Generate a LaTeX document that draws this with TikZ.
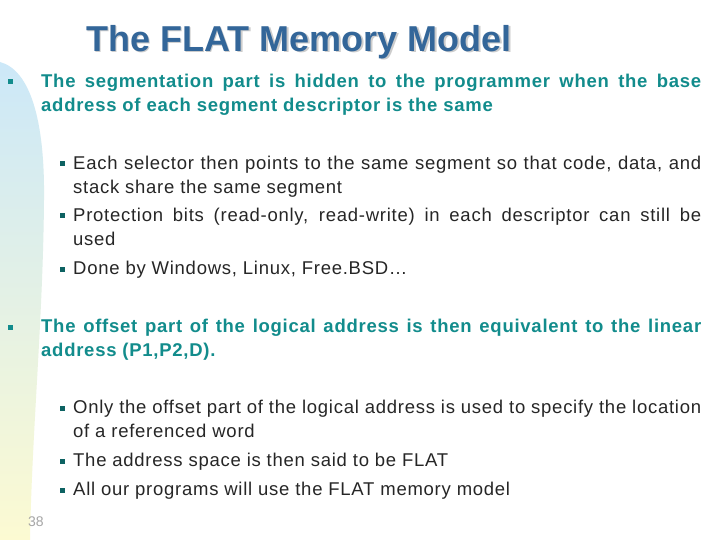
\documentclass[tikz,border=0pt]{standalone}
\usepackage{fontspec}
\setmainfont{Liberation Sans}
\newfontfamily\spacedfont[LetterSpace=4]{Liberation Sans}
\definecolor{titleblue}{HTML}{336699}
\definecolor{teal1}{HTML}{128C8C}
\definecolor{band1}{HTML}{CCE8F8}
\definecolor{band2}{HTML}{FCFAD2}
\begin{document}
\begin{tikzpicture}[x=1bp,y=-1bp,
  lone/.style={anchor=north west,inner sep=0,text width=660bp,align=justify,font=\spacedfont\fontsize{18.5bp}{24bp}\selectfont\bfseries,text=teal1},
  ltwo/.style={anchor=north west,inner sep=0,text width=628bp,align=justify,font=\spacedfont\fontsize{18.5bp}{24bp}\selectfont,text=black!85},
  bul/.style={fill=#1,minimum size=5bp,inner sep=0}]
\useasboundingbox (0,0) rectangle (720,540);
\fill[white] (0,0) rectangle (720,540);
\shade[top color=band1,bottom color=band2] (0,62) .. controls (30,70) and (45,120) .. (44,200) .. controls (43,320) and (32,430) .. (30,540) -- (0,540) -- cycle;
\node[font=\fontsize{36bp}{40bp}\selectfont\bfseries,text=black!20] (shadow) at (300.5,43.5) {The FLAT Memory Model};
\node[font=\fontsize{36bp}{40bp}\selectfont\bfseries,text=titleblue] (title) at (299,42) {The FLAT Memory Model};
\node[bul=teal1] (b1) at (10,82) {};
\node[lone] (t1) at (41,74) {The segmentation part is hidden to the programmer when the base\linebreak address of each segment descriptor is the same};
\node[bul=teal1!70!black] (b11) at (62,164) {};
\node[ltwo] (t11) at (73,156) {Each selector then points to the same segment so that code, data, and\linebreak stack share the same segment};
\node[bul=teal1!70!black] (b12) at (62,216) {};
\node[ltwo] (t12) at (73,208) {Protection bits (read-only, read-write) in each descriptor can still be\linebreak used};
\node[bul=teal1!70!black] (b13) at (62,269) {};
\node[ltwo] (t13) at (73,261) {Done by Windows, Linux, Free.BSD…};
\node[bul=teal1] (b2) at (10,327) {};
\node[lone] (t2) at (41,319) {The offset part of the logical address is then equivalent to the linear\linebreak address (P1,P2,D).};
\node[bul=teal1!70!black] (b21) at (62,408) {};
\node[ltwo] (t21) at (73,400) {Only the offset part of the logical address is used to specify the location\linebreak of a referenced word};
\node[bul=teal1!70!black] (b22) at (62,461) {};
\node[ltwo] (t22) at (73,453) {The address space is then said to be FLAT};
\node[bul=teal1!70!black] (b23) at (62,490) {};
\node[ltwo] (t23) at (73,482) {All our programs will use the FLAT memory model};
\node[font=\fontsize{14bp}{16bp}\selectfont,text=black!35] (pg) at (36,522) {38};
\end{tikzpicture}
\end{document}
